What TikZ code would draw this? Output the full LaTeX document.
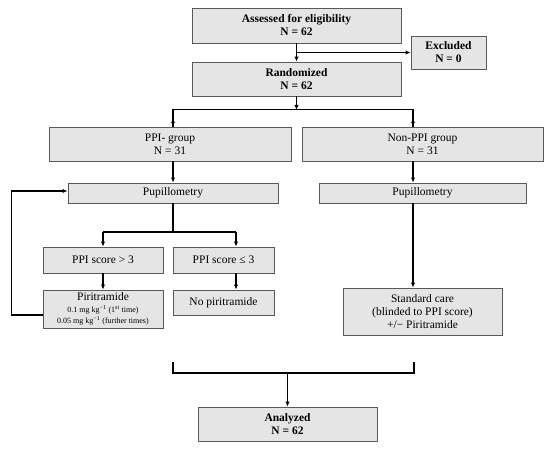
\documentclass[tikz,border=0pt]{standalone}
\usepackage{fontspec}
\setmainfont{Liberation Serif}
\usetikzlibrary{arrows.meta, positioning}

\begin{document}
\begin{tikzpicture}[x=1pt, y=-1pt,
  block/.style={draw=black!65, line width=0.9pt, fill=black!10, align=center,
                inner sep=1pt, font=\fontsize{11.5}{13}\selectfont},
  bold/.style={font=\fontsize{11.5}{13}\selectfont\bfseries},
  arrow/.style={-{Latex[length=5pt,width=4.5pt]}, line width=1.1pt},
  link/.style={line width=1.1pt}]

  \useasboundingbox (0,0) rectangle (550,449);

  % top of the flow
  \node[block, bold, minimum width=209pt, minimum height=35pt] (assess) at (296.5,25.5) {Assessed for eligibility\\N = 62};
  \node[block, bold, minimum width=75pt, minimum height=33pt]  (excl)   at (448.5,52.5) {Excluded\\N = 0};
  \node[block, bold, minimum width=209pt, minimum height=34pt] (rand)   at (296.5,79)   {Randomized\\N = 62};

  % the two groups
  \node[block, minimum width=242pt, minimum height=34pt] (ppi)    at (170,144)   {PPI- group\\N = 31};
  \node[block, minimum width=241pt, minimum height=34pt] (nonppi) at (422.5,144) {Non-PPI group\\N = 31};
  \node[block, minimum width=210pt, minimum height=20pt] (pupA)   at (173,193)   {Pupillometry};
  \node[block, minimum width=207pt, minimum height=20pt] (pupB)   at (422.5,193) {Pupillometry};

  % PPI branch
  \node[block, minimum width=120pt, minimum height=26pt] (gt)    at (103,260)   {PPI score > 3};
  \node[block, minimum width=101pt, minimum height=26pt] (le)    at (223.5,260) {PPI score ≤ 3};
  \node[block, minimum width=120pt, minimum height=38pt] (pir)   at (103,309)
    {Piritramide\\[-1pt]{\fontsize{8}{9.5}\selectfont 0.1 mg kg\textsuperscript{−1} (1\textsuperscript{st} time)}\\[-2pt]
     {\fontsize{8}{9.5}\selectfont 0.05 mg kg\textsuperscript{−1} (further times)}};
  \node[block, minimum width=101pt, minimum height=25pt] (nopir) at (223.5,302.5) {No piritramide};

  % non-PPI branch
  \node[block, minimum width=159pt, minimum height=47pt] (std) at (422.5,311.5)
    {Standard care\\(blinded to PPI score)\\+/− Piritramide};

  \node[block, bold, minimum width=179pt, minimum height=34pt] (anal) at (287.5,424) {Analyzed\\N = 62};

  % helper coordinates
  \coordinate (rc)  at (413,0);
  \coordinate (lc)  at (236,0);
  \coordinate (top) at (0,110);
  \coordinate (mid) at (0,232);
  \coordinate (bl)  at (173,362);
  \coordinate (br)  at (414,362);
  \coordinate (bot) at (0,373);

  \draw[arrow] (assess.south) -- (rand.north);
  \draw[arrow] (assess.south |- excl.west) -- (excl.west);
  \draw[arrow] (rand.south) -- (rand.south |- top);
  \draw[link] (ppi.north -| pupA) -- ++(0,-17) -| (nonppi.north -| rc);
  \draw[arrow] (ppi.north -| pupA) ++(0,-17) -- (ppi.north -| pupA);
  \draw[arrow] (nonppi.north -| rc) ++(0,-17) -- (nonppi.north -| rc);

  \draw[arrow] (ppi.south -| pupA) -- (pupA.north);
  \draw[link] (pupA.south) -- (pupA.south |- mid);
  \draw[link] (gt.north |- mid) -- (lc |- mid);
  \draw[arrow] (gt.north |- mid) -- (gt.north);
  \draw[arrow] (lc |- mid) -- (le.north -| lc);
  \draw[arrow] (gt.south) -- (pir.north);
  \draw[arrow] (le.south -| lc) -- (nopir.north -| lc);
  \draw[arrow] ([yshift=-6pt]pir.west) -- ++(-31,0) |- ([yshift=2pt]pupA.west);

  \draw[arrow] (nonppi.south -| rc) -- (pupB.north -| rc);
  \draw[arrow] (pupB.south -| rc) -- (std.north -| rc);

  \draw[link] (bl) |- (bot -| br) -- (br);
  \draw[arrow] (anal.north |- bot) -- (anal.north);
\end{tikzpicture}
\end{document}
